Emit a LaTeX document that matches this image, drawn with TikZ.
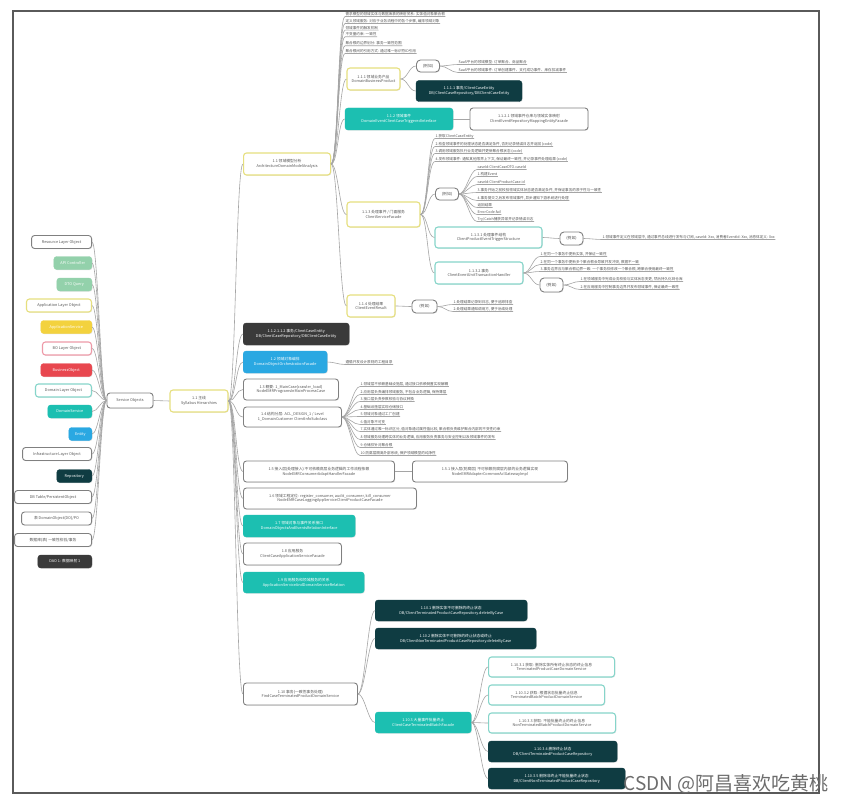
\documentclass[tikz,border=0pt]{standalone}
\usepackage{fontspec}
\setmainfont{Noto Sans CJK SC}
\usetikzlibrary{shadows}
\definecolor{cline}{HTML}{A5A5A5}
\definecolor{gborder}{HTML}{808080}
\definecolor{ybord}{HTML}{E6DF7E}
\definecolor{tbord}{HTML}{86D5CA}
\definecolor{tfillc}{HTML}{1CBFB1}
\definecolor{dfillc}{HTML}{0F3C42}
\definecolor{gfillc}{HTML}{3A3A3A}
\definecolor{bfillc}{HTML}{2AA8E2}
\definecolor{grfillc}{HTML}{93D1AB}
\definecolor{yfillc}{HTML}{F3D23E}
\definecolor{pbord}{HTML}{EE9AA8}
\definecolor{rfillc}{HTML}{E8474F}
\definecolor{txtc}{HTML}{555555}
\definecolor{framec}{HTML}{5A5A5A}
\newcommand\myfs{\fontsize{3.8}{4.7}\selectfont}
\newcommand\myls{\fontsize{3.6}{4.2}\selectfont}
\newcommand\lnk[2]{\draw[con] (#1.east) .. controls +(7,0) and +(-7,0) .. (#2.west);}
\newcommand\lnkul[2]{\draw[con] (#1.east) .. controls +(7,0) and +(-7,0) .. (#2.south west) -- (#2.south east);}
\newcommand\lnkl[2]{\draw[con] (#1.west) .. controls +(-6,0) and +(6,0) .. (#2.east);}
\begin{document}
\begin{tikzpicture}[x=1pt,y=-1pt,
  box/.style={rounded corners=3pt, inner sep=1pt, align=center, font=\myfs, minimum height=21,
    drop shadow={opacity=.22,shadow xshift=.7pt,shadow yshift=-.7pt}},
  wb/.style={box, draw=gborder, line width=.9pt, fill=white, text=txtc},
  yb/.style={box, draw=ybord, line width=1.1pt, fill=white, text=txtc},
  tb/.style={box, draw=tbord, line width=1.1pt, fill=white, text=txtc},
  pb/.style={box, draw=pbord, line width=1.1pt, fill=white, text=txtc},
  tf/.style={box, draw=tfillc, fill=tfillc, text=white},
  df/.style={box, draw=dfillc, fill=dfillc, text=white},
  gf/.style={box, draw=gfillc, fill=gfillc, text=white},
  bf/.style={box, draw=bfillc, fill=bfillc, text=white},
  grf/.style={box, draw=grfillc, fill=grfillc, text=white},
  yf/.style={box, draw=yfillc, fill=yfillc, text=white},
  rf/.style={box, draw=rfillc, fill=rfillc, text=white},
  eg/.style={wb, minimum width=23, minimum height=12, rounded corners=4pt},
  li/.style={anchor=south west, inner sep=.4pt, font=\myls, text=txtc},
  lc/.style={anchor=east, minimum height=13},
  con/.style={draw=cline, line width=.6pt}
]
\useasboundingbox (0,0) rectangle (843,805);
\fill[white] (0,0) rectangle (843,805);
\draw[framec, line width=1.4pt] (13,11) rectangle (819,793);

% ---------- left column ----------
\node[wb, minimum width=46, minimum height=15] (so) at (130,400.5) {Service Objects};
\node[wb,  lc, minimum width=60] (L1)  at (92,242)   {Resource Layer Object};
\node[grf, lc, minimum width=38] (L2)  at (92,263)   {API Controller};
\node[grf, lc, minimum width=35] (L3)  at (92,284.5) {DTO Query};
\node[yb,  lc, minimum width=65] (L4)  at (92,305.5) {Application Layer Object};
\node[yf,  lc, minimum width=51] (L5)  at (92,327)   {ApplicationService};
\node[pb,  lc, minimum width=49] (L6)  at (92,348.5) {BO Layer Object};
\node[rf,  lc, minimum width=51] (L7)  at (92,370)   {BusinessObject};
\node[tb,  lc, minimum width=56] (L8)  at (92,390.5) {Domain Layer Object};
\node[tf,  lc, minimum width=44] (L9)  at (92,411.5) {DomainService};
\node[bf,  lc, minimum width=23] (L10) at (92,434)   {Entity};
\node[wb,  lc, minimum width=69] (L11) at (92,454)   {Infrastructure Layer Object};
\node[df,  lc, minimum width=35] (L12) at (92,476)   {Repository};
\node[wb,  lc, minimum width=77] (L13) at (92,497)   {DB Table/PersistentObject};
\node[wb,  lc, minimum width=70] (L14) at (92,518.5) {表 DomainObject(DO)/PO};
\node[wb,  lc, minimum width=77] (L15) at (92,540)   {数据库(表) 一致性校验/事务};
\node[gf,  lc, minimum width=54] (L16) at (92,561.5) {DAO 1: 数据映射 1};
\foreach \i in {1,...,15}{\lnkl{so}{L\i}}

% ---------- root ----------
\node[yb, minimum width=58, minimum height=22] (n11) at (199,401) {1.1 主线\\Syllabus Hierarchies};
\draw[con] (so.east) -- (n11.west);

% ---------- level 2 ----------
\node[yb, anchor=west, minimum width=87, minimum height=22] (a) at (243,164) {1.1 领域模型分析\\ArchitectureDomainModelAnalysis};
\node[gf, anchor=west, minimum width=106, minimum height=22] (b) at (243,334) {1.1.2.1.1.2 事务/ClientCaseEntity\\DB/ClientCaseRepository/DBClientCaseEntity};
\node[bf, anchor=west, minimum width=84, minimum height=22] (c) at (243,362) {1.2 领域对象编排\\DomainObjectOrchestrationFacade};
\node[wb, anchor=west, minimum width=95] (d) at (243,389.5) {1.3 概要: 1\_MainCase(crawler\_load)\\NodeEMRProgramsInMainProcessCase};
\node[wb, anchor=west, minimum width=98, minimum height=20] (e) at (243,417) {1.4 结构分层: ACL\_DESIGN\_1 / Level\\1\_DomainCustomer ClientInfoSubclass};
\node[wb, anchor=west, minimum width=151] (f) at (243,471.5) {1.5 接入层(处理接入) 不可依赖底层业务逻辑的工作流程依赖\\NodeEMRConsumerAdaptHandlerFacade};
\node[wb, anchor=west, minimum width=155] (fr) at (412,471.5) {1.5.1 接入层(防腐层) 不可依赖防腐层内部的业务逻辑实现\\NodeEMRAdapterCommonAclGatewayImpl};
\node[wb, anchor=west, minimum width=173] (g) at (243,498.5) {1.6 领域工程定位: register\_consumer, audit\_consumer, kill\_consumer\\NodeEMRCaseLoggingAppServiceClientProductCaseFacade};
\node[tf, anchor=west, minimum width=112, minimum height=22] (h) at (243,526) {1.7 领域对象与事件关系接口\\DomainObjectsAndEventsRelationInterface};
\node[wb, anchor=west, minimum width=98, minimum height=22] (i) at (243,554) {1.8 应用服务\\ClientCaseApplicationServiceFacade};
\node[tf, anchor=west, minimum width=121] (j) at (243,582.5) {1.9 应用服务和领域服务的关系\\ApplicationServiceAndDomainServiceRelation};
\node[wb, anchor=west, minimum width=114, minimum height=22] (k) at (243,694) {1.10 事务(一致性事务处理)\\FindCaseTerminatedProductDomainService};
\foreach \n in {a,b,c,d,e,f,g,h,i,j,k}{\lnk{n11}{\n}}
\draw[con] (f.east) -- (fr.west);

% c label
\node[li] (cl) at (345,364.5) {遵循开发设计原则的工程目录};
\lnkul{c}{cl}

% e list
\node[li] (e1)  at (360,386.5) {1.领域层不依赖基础设施层, 通过接口依赖倒置实现解耦};
\node[li] (e2)  at (360,394.5) {2.应用层负责编排领域服务, 不包含业务逻辑, 保持薄层};
\node[li] (e3)  at (360,401.5) {3.接口层负责参数校验与协议转换};
\node[li] (e4)  at (360,409.5) {4.基础设施层实现仓储接口};
\node[li] (e5)  at (360,416.5) {5.领域对象通过工厂创建};
\node[li] (e6)  at (360,424.5) {6.值对象不可变};
\node[li] (e7)  at (360,431.5) {7.实体通过唯一标识区分, 值对象通过属性值比较, 聚合根负责维护聚合内部的不变性约束};
\node[li] (e8)  at (360,439.5) {8.领域服务处理跨实体的业务逻辑, 应用服务负责事务与安全控制以及领域事件的发布};
\node[li] (e9)  at (360,447.5) {9.仓储仅针对聚合根};
\node[li] (e10) at (360,455.5) {10.防腐层隔离外部系统, 保护领域模型的纯净性};
\foreach \i in {1,...,10}{\lnkul{e}{e\i}}

% ---------- a subtree ----------
\node[li] (t1) at (345,16.5) {需求模型的领域实体与数据库表的映射关系: 实体值对象聚合根};
\node[li] (t2) at (345,23.5) {定义领域服务: 对应于业务流程中的各个步骤, 编排领域对象};
\node[li] (t3) at (345,30.2) {领域事件的触发机制};
\node[li] (t4) at (345,36.8) {不变量约束: 一致性};
\node[li] (t5) at (345,45.8) {聚合根的边界划分: 事务一致性范围};
\node[li] (t6) at (345,53.5) {聚合根间的引用方式: 通过唯一标识符ID引用};
\foreach \i in {1,...,6}{\lnkul{a}{t\i}}

\node[yb, minimum width=53, minimum height=22] (a1) at (373.5,79) {1.1.1 领域业务产品\\DomainBusinessProduct};
\node[eg] (a1e) at (428,66) {(例如)};
\node[li] (a1e1) at (458,64.5) {SaaS平台的领域模型: 订单聚合、商品聚合};
\node[li] (a1e2) at (458,72.5) {SaaS平台的领域事件: 订单创建事件、支付成功事件、库存扣减事件};
\node[df, minimum width=106] (a1d) at (469,91) {1.1.1.1 事务/ClientCaseEntity\\DB/ClientCaseRepository/DBClientCaseEntity};
\lnk{a}{a1} \lnk{a1}{a1e} \lnk{a1}{a1d} \lnkul{a1e}{a1e1} \lnkul{a1e}{a1e2}

\node[tf, minimum width=108, minimum height=22] (a2) at (399,119) {1.1.2 领域事件\\DomainEventClientCaseTriggeredInterface};
\node[wb, minimum width=118, minimum height=22] (a2r) at (529,119) {1.1.2.1 领域事件仓库与领域实体映射\\ClientEventRepositoryMappingEntityFacade};
\lnk{a}{a2} \draw[con] (a2.east) -- (a2r.west);

\node[yb, minimum width=73, minimum height=25] (a3) at (383.5,214.5) {1.1.3 处理事件 / 门面服务\\ClientServiceFacade};
\lnk{a}{a3}
\node[li] (s1) at (435,138.5) {1.获取ClientCaseEntity};
\node[li] (s2) at (435,146.5) {2.检查领域事件的处理状态是否满足条件, 否则记录错误日志并返回 (code)};
\node[li] (s3) at (435,153.5) {3.调用领域服务执行业务逻辑并更新聚合根状态 (code)};
\node[li] (s4) at (435,161.5) {4.发布领域事件: 通知其他限界上下文, 保证最终一致性, 并记录事件处理结果 (code)};
\foreach \i in {1,...,4}{\lnkul{a3}{s\i}}
\node[eg] (a3e) at (447,194) {(例如)};
\lnk{a3}{a3e}
\node[li] (r1) at (477,169.5) {caseId:ClientCaseDTO.caseId};
\node[li] (r2) at (477,176.5) {1.构建Event};
\node[li] (r3) at (477,184.5) {caseId:ClientProductCase.id};
\node[li] (r4) at (477,192.5) {3.事务开始之前校验领域实体状态是否满足条件, 并保证事务的原子性与一致性};
\node[li] (r5) at (477,200.5) {4.事务提交之后发布领域事件, 异步通知下游系统进行处理};
\node[li] (r6) at (477,207.5) {返回结果};
\node[li] (r7) at (477,214.5) {ErrorCode.fail};
\node[li] (r8) at (477,221.5) {Try/Catch捕获异常并记录错误日志};
\foreach \i in {1,...,8}{\lnkul{a3e}{r\i}}

\node[tb, minimum width=107] (a31) at (488.5,237.5) {1.1.3.1 处理事件结构\\ClientProductEventTriggerStructure};
\node[eg, minimum height=13] (a31e) at (571.5,238.5) {(例如)};
\node[li] (a31l) at (602,239.5) {1.领域事件定义在领域层中, 通过事件总线进行发布与订阅, caseId: Xxx, 消费者EventId: Xxx, 消息体定义: Xxx};
\lnk{a3}{a31} \lnk{a31}{a31e} \lnkul{a31e}{a31l}

\node[tb, minimum width=88, minimum height=22] (a32) at (479,273) {1.1.3.2 事务\\ClientEventUnitTransactionHandler};
\lnk{a3}{a32}
\node[li] (u1) at (540,256.5) {1.在同一个事务中更新实体, 并保证一致性};
\node[li] (u2) at (540,264.5) {2.在同一个事务中更新多个聚合根会导致并发冲突, 数据不一致};
\node[li] (u3) at (540,271.5) {3.事务边界应与聚合根边界一致: 一个事务仅修改一个聚合根, 跨聚合使用最终一致性};
\foreach \i in {1,...,3}{\lnkul{a32}{u\i}}
\node[eg, minimum height=14] (a32e) at (551.5,285) {(例如)};
\lnk{a32}{a32e}
\node[li] (v1) at (580,281.5) {1.在领域服务中完成业务校验与实体状态变更, 然后持久化到仓库};
\node[li] (v2) at (580,289.5) {2.在应用服务中控制事务边界并发布领域事件, 保证最终一致性};
\lnkul{a32e}{v1} \lnkul{a32e}{v2}

\node[yb, minimum width=48, minimum height=22] (a4) at (371,306) {1.1.4 处理结果\\ClientEventResult};
\node[eg, minimum width=25, minimum height=13] (a4e) at (424.5,306.5) {(例如)};
\node[li] (w1) at (453,304.5) {1.处理结果记录到日志, 便于追踪排查};
\node[li] (w2) at (453,311.5) {2.处理结果通知调用方, 便于后续处理};
\lnk{a}{a4} \lnk{a4}{a4e} \lnkul{a4e}{w1} \lnkul{a4e}{w2}

% ---------- k subtree ----------
\node[df, anchor=west, minimum width=152] (k1) at (375,610.5) {1.10.1 删除实体不可删除的终止状态\\DB/ClientTerminatedProductCaseRepository.deleteByCase};
\node[df, anchor=west, minimum width=161] (k2) at (375,638.5) {1.10.2 删除实体不可删除的终止状态或终止\\DB/ClientNonTerminatedProductCaseRepository.deleteByCase};
\node[tf, anchor=west, minimum width=96] (k3) at (375,722.5) {1.10.3 大量事件批量终止\\ClientCaseTerminatedBatchFacade};
\lnk{k}{k1} \lnk{k}{k2} \lnk{k}{k3}
\node[tb, anchor=west, minimum width=126, minimum height=20] (m1) at (488,667) {1.10.3.1 获取: 删除实体所有终止状态的终止信息\\TerminatedProductCaseDomainService};
\node[tb, anchor=west, minimum width=116, minimum height=20] (m2) at (488,695) {1.10.3.2 获取: 根据状态批量终止信息\\TerminatedBatchProductDomainService};
\node[tb, anchor=west, minimum width=127, minimum height=20] (m3) at (488,723) {1.10.3.3 获取: 不能批量终止的终止信息\\NonTerminatedBatchProductDomainService};
\node[df, anchor=west, minimum width=129] (m4) at (488,751.5) {1.10.3.4 删除终止状态\\DB/ClientTerminatedProductCaseRepository};
\node[df, anchor=west, minimum width=137] (m5) at (488,778.5) {1.10.3.5 删除非终止不能批量终止状态\\DB/ClientNonTerminatedProductCaseRepository};
\foreach \i in {1,...,5}{\lnk{k3}{m\i}}

% watermark
\node[anchor=east, inner sep=0pt, font=\fontsize{19}{19}\selectfont, text=gray!85!black] (wm) at (829,784) {CSDN @阿昌喜欢吃黄桃};
\end{tikzpicture}
\end{document}
